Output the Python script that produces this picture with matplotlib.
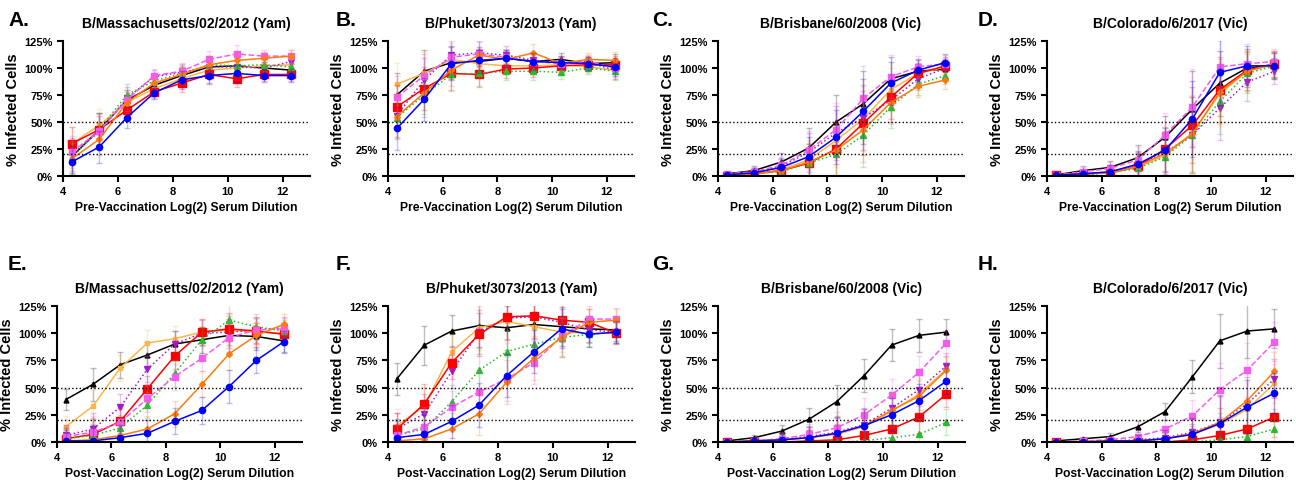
import numpy as np
import matplotlib.pyplot as plt

plt.rcParams['font.family'] = ['Liberation Sans', 'DejaVu Sans']
plt.rcParams['font.weight'] = 'bold'

# serum dilution 1:20 ... 1:5120 on log2 scale
x = np.log2([20, 40, 80, 160, 320, 640, 1280, 2560, 5120])

series_names = ['black', 'yellow', 'purple', 'red', 'green', 'magenta', 'orange', 'blue']

# panel values, order of series_names (% infected cells)
A_vals = [
    [18, 43, 70, 84, 93, 101, 102, 100, 98],
    [30, 47, 68, 81, 90, 98, 100, 102, 103],
    [20, 41, 72, 92, 96, 101, 101, 100, 106],
    [30, 43, 61, 78, 86, 94, 90, 94, 94],
    [17, 43, 75, 88, 95, 103, 102, 103, 101],
    [22, 42, 70, 93, 97, 108, 113, 111, 111],
    [16, 34, 68, 86, 94, 103, 107, 109, 111],
    [13, 27, 54, 77, 89, 93, 95, 93, 93],
]
B_vals = [
    [75, 97, 105, 106, 109, 106, 108, 104, 105],
    [85, 95, 108, 104, 102, 102, 103, 101, 98],
    [56, 89, 112, 114, 112, 107, 105, 105, 98],
    [64, 81, 95, 94, 99, 100, 102, 103, 103],
    [54, 75, 94, 95, 97, 97, 96, 100, 97],
    [73, 93, 110, 113, 110, 106, 104, 106, 100],
    [55, 77, 98, 112, 108, 114, 104, 108, 107],
    [44, 71, 104, 107, 109, 106, 105, 104, 101],
]
C_vals = [
    [2, 5, 13, 26, 50, 67, 90, 97, 99],
    [1, 2, 6, 15, 33, 53, 80, 95, 101],
    [1, 3, 9, 22, 40, 54, 70, 90, 100],
    [0, 2, 5, 12, 25, 49, 73, 95, 102],
    [1, 2, 4, 12, 20, 38, 64, 85, 93],
    [2, 4, 10, 24, 43, 72, 92, 101, 104],
    [1, 2, 5, 13, 24, 43, 68, 83, 89],
    [1, 3, 8, 18, 36, 60, 86, 98, 105],
]
D_vals = [
    [1, 5, 8, 17, 36, 62, 86, 100, 103],
    [1, 2, 3, 8, 19, 40, 76, 97, 103],
    [1, 2, 3, 10, 22, 38, 63, 87, 97],
    [1, 2, 3, 9, 25, 47, 80, 98, 104],
    [1, 1, 3, 7, 18, 38, 69, 95, 102],
    [1, 4, 7, 15, 38, 64, 101, 104, 106],
    [1, 2, 3, 9, 21, 39, 78, 97, 104],
    [1, 2, 4, 11, 24, 53, 96, 102, 102],
]
E_vals = [
    [39, 53, 71, 80, 90, 94, 98, 97, 93],
    [14, 33, 68, 91, 95, 101, 103, 101, 100],
    [6, 12, 32, 67, 90, 100, 101, 103, 105],
    [3, 7, 19, 49, 79, 101, 104, 102, 99],
    [3, 6, 13, 34, 63, 94, 112, 106, 102],
    [5, 9, 18, 40, 60, 77, 96, 103, 104],
    [1, 2, 6, 12, 26, 53, 81, 98, 108],
    [1, 1, 4, 8, 19, 29, 51, 75, 92],
]
F_vals = [
    [58, 89, 102, 107, 105, 108, 106, 104, 103],
    [15, 33, 83, 105, 111, 106, 101, 100, 100],
    [12, 26, 65, 101, 114, 115, 110, 103, 101],
    [12, 35, 73, 99, 115, 116, 112, 110, 100],
    [6, 12, 37, 66, 83, 90, 96, 99, 101],
    [6, 14, 32, 46, 58, 73, 97, 113, 113],
    [1, 3, 12, 26, 55, 77, 96, 110, 112],
    [4, 7, 19, 34, 61, 83, 104, 99, 101],
]
G_vals = [
    [1, 4, 10, 21, 37, 61, 89, 98, 101],
    [0, 1, 2, 4, 7, 14, 28, 44, 67],
    [0, 1, 2, 5, 9, 16, 31, 48, 70],
    [0, 0, 0, 1, 2, 6, 12, 23, 44],
    [0, 0, 0, 0, 0, 1, 4, 7, 18],
    [0, 1, 3, 7, 13, 25, 43, 64, 91],
    [0, 1, 2, 4, 8, 15, 29, 42, 66],
    [0, 1, 2, 4, 8, 15, 25, 38, 56],
]
H_vals = [
    [1, 3, 5, 14, 28, 60, 93, 102, 104],
    [0, 0, 1, 1, 3, 7, 16, 30, 54],
    [0, 0, 1, 2, 4, 9, 18, 35, 58],
    [0, 0, 0, 0, 0, 2, 6, 12, 23],
    [0, 0, 1, 1, 0, 0, 2, 5, 12],
    [0, 1, 2, 5, 12, 24, 48, 66, 92],
    [0, 0, 1, 1, 3, 8, 18, 38, 65],
    [0, 0, 1, 1, 3, 7, 17, 32, 45],
]

# rough spread of the error bars per panel (same for every donor)
A_err = [15, 15, 10, 6, 8, 8, 8, 6, 6]
B_err = [20, 20, 15, 12, 8, 8, 6, 6, 8]
C_err = [2, 4, 8, 18, 25, 30, 20, 10, 8]
D_err = [2, 4, 6, 12, 20, 35, 30, 18, 12]
E_err = [10, 15, 12, 12, 12, 12, 15, 12, 10]
F_err = [15, 18, 15, 20, 20, 20, 18, 12, 10]
G_err = [1, 2, 6, 10, 15, 15, 15, 15, 12]
H_err = [1, 2, 3, 5, 8, 15, 25, 25, 18]

titles = ['B/Massachusetts/02/2012 (Yam)', 'B/Phuket/3073/2013 (Yam)',
          'B/Brisbane/60/2008 (Vic)', 'B/Colorado/6/2017 (Vic)'] * 2
letters = ['A.', 'B.', 'C.', 'D.', 'E.', 'F.', 'G.', 'H.']
xlabels = ['Pre-Vaccination Log(2) Serum Dilution'] * 4 + ['Post-Vaccination Log(2) Serum Dilution'] * 4
panel_vals = [A_vals, B_vals, C_vals, D_vals, E_vals, F_vals, G_vals, H_vals]
panel_err = [A_err, B_err, C_err, D_err, E_err, F_err, G_err, H_err]

colors = ['#000000', '#FDB64A', '#A11BD6', '#FF0000', '#2DB82D', '#F45CF0', '#FF7A0E', '#0000FF']
styles = ['-', '-', ':', '-', ':', '--', '-', '-']
markers = ['^', 's', 'v', 's', '^', 's', 'D', 'o']
msizes = [3.5, 3, 4.5, 5.5, 4, 4.5, 3, 4.5]

W, H = 1296, 481
fig = plt.figure(figsize=(W / 100, H / 100), dpi=100)

# axes boxes in pixels: left, right, top, bottom
boxes = [(63, 310, 42, 177), (388, 634, 42, 177), (718, 964, 42, 177), (1047, 1293, 42, 177),
         (57, 302, 307, 443), (388, 635, 307, 443), (718, 965, 307, 443), (1047, 1293, 307, 443)]
letter_pos = [(8, 20), (336, 20), (652, 20), (978, 20),
              (8, 265), (336, 265), (652, 265), (978, 265)]

for i in range(8):
    l, r, t, b = boxes[i]
    ax = fig.add_axes([l / W, 1 - b / H, (r - l) / W, (b - t) / H])
    for j in range(8):
        y = np.array(panel_vals[i][j], dtype=float)
        ax.errorbar(x, y, yerr=panel_err[i], fmt='none', ecolor=colors[j],
                    alpha=0.25, elinewidth=1, capsize=2.5, capthick=1)
        ax.plot(x, y, color=colors[j], linestyle=styles[j], linewidth=1.1,
                marker=markers[j], markersize=msizes[j])
    ax.axhline(50, color='black', linestyle=':', linewidth=1)
    ax.axhline(20, color='black', linestyle=':', linewidth=1)
    ax.set_xlim(4, 13)
    ax.set_ylim(0, 125)
    ax.set_xticks([4, 6, 8, 10, 12])
    ax.set_yticks([0, 25, 50, 75, 100, 125])
    ax.set_yticklabels(['0%', '25%', '50%', '75%', '100%', '125%'])
    ax.spines['top'].set_visible(False)
    ax.spines['right'].set_visible(False)
    ax.spines['left'].set_linewidth(1.5)
    ax.spines['bottom'].set_linewidth(1.5)
    ax.tick_params(labelsize=8, width=1.5, length=4)
    for lab in ax.get_xticklabels() + ax.get_yticklabels():
        lab.set_fontweight('bold')
    ax.set_title(titles[i], fontsize=10, fontweight='bold', pad=10)
    ax.set_xlabel(xlabels[i], fontsize=8.7, fontweight='bold', labelpad=3)
    ax.set_ylabel('% Infected Cells', fontsize=10.5, fontweight='bold', labelpad=3)
    fig.text(letter_pos[i][0] / W, 1 - letter_pos[i][1] / H, letters[i],
             fontsize=15, fontweight='bold', va='center', ha='left')

fig.savefig('out.png', dpi=100)
